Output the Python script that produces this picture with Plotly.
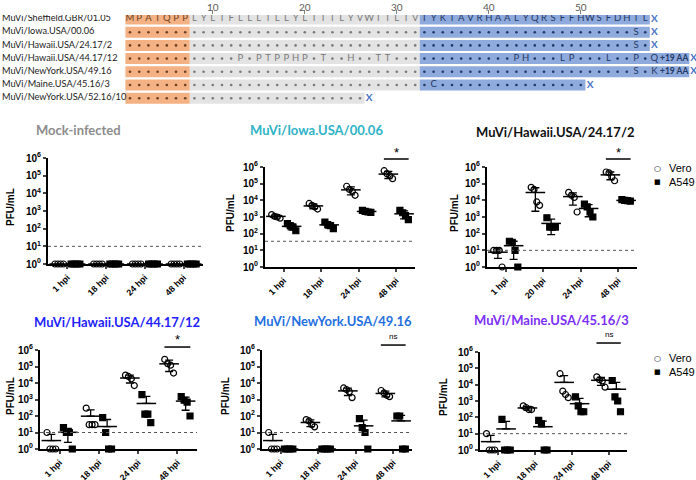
import numpy as np
import plotly.graph_objects as go

# ---------------- sequence alignment data ----------------
seq_names = ["MuVi/Sheffield.GBR/01.05", "MuVi/Iowa.USA/00.06", "MuVi/Hawaii.USA/24.17/2",
             "MuVi/Hawaii.USA/44.17/12", "MuVi/NewYork.USA/49.16", "MuVi/Maine.USA/45.16/3",
             "MuVi/NewYork.USA/52.16/10"]
seq_ref = "MPAIQPPLYLTFLLLILLYLIITLYVWIILTVTYKTAVRHAALYQRSFFHWSFDHTL"
seq_rows = [
    seq_ref,
    "." * 55 + "S.",
    "." * 55 + "S.",
    "." * 12 + "P.PTPPHP.T..H..TT" + "." * 13 + "PH...LP...L..P.Q",
    "." * 55 + "S.K",
    "." * 33 + "C" + "." * 16,
    "." * 26,
]
seq_extra = ["", "", "", "+19 AA", "+19 AA", "", ""]
seq_regions = [(1, 7), (8, 32), (33, 57)]          # signal / TM / cytoplasmic
seq_ticks = [10, 20, 30, 40, 50]

# ---------------- growth curve data (PFU/mL) ----------------
hpi = ["1 hpi", "18 hpi", "24 hpi", "48 hpi"]
hpi_h24 = ["1 hpi", "20 hpi", "24 hpi", "48 hpi"]

mock_vero = [[1, 1, 1, 1], [1, 1, 1, 1], [1, 1, 1, 1], [1, 1, 1, 1]]
mock_a549 = [[1, 1, 1, 1], [1, 1, 1, 1], [1, 1, 1, 1], [1, 1, 1, 1]]

iowa_vero = [[1400, 1100, 1000, 850], [6500, 5000, 4000, 3000], [70000, 45000, 35000, 20000],
             [600000, 400000, 300000, 200000]]
iowa_a549 = [[400, 300, 250, 150], [500, 350, 300, 200], [2500, 2200, 2000, 1900],
             [2500, 1800, 1200, 700]]

h24_vero = [[10, 10, 10, 1], [60000, 45000, 8000, 5000], [30000, 20000, 15000, 2000],
            [500000, 450000, 250000, 150000]]
h24_a549 = [[35, 30, 10, 1], [900, 250, 250, 250], [6000, 4000, 2000, 1000],
            [11000, 10000, 9500, 9000]]

h44_vero = [[10, 1, 1, 1], [300, 30, 30, 30], [30000, 25000, 18000, 7000],
            [270000, 150000, 120000, 40000]]
h44_a549 = [[20, 10, 10, 1], [80, 10, 1, 1], [2000, 130, 130, 40], [1500, 900, 700, 100]]

ny49_vero = [[10, 1, 1, 1], [60, 50, 30, 22], [5000, 4000, 3000, 1300], [3500, 2500, 1800, 1500]]
ny49_a549 = [[1, 1, 1, 1], [1, 1, 1, 1], [70, 20, 10, 1], [100, 100, 1, 1]]

me45_vero = [[10, 1, 1, 1], [500, 400, 300, 300], [47000, 4000, 2500, 1600],
             [30000, 20000, 17000, 7000]]
me45_a549 = [[75, 1, 1, 1], [65, 40, 1, 1], [1800, 500, 220, 220], [18000, 1800, 1000, 220]]

detection_limit = [10, 35, 10, 10, 10, 10]

panel_titles = ["Mock-infected", "MuVi/Iowa.USA/00.06", "MuVi/Hawaii.USA/24.17/2",
                "MuVi/Hawaii.USA/44.17/12", "MuVi/NewYork.USA/49.16", "MuVi/Maine.USA/45.16/3"]
panel_colors = ["#8c8c8c", "#2eb3c7", "#111111", "#1f1fff", "#1f6fe0", "#7b2ff7"]
panel_cats = [hpi, hpi, hpi_h24, hpi, hpi, hpi]
panel_vero = [mock_vero, iowa_vero, h24_vero, h44_vero, ny49_vero, me45_vero]
panel_a549 = [mock_a549, iowa_a549, h24_a549, h44_a549, ny49_a549, me45_a549]
panel_sig = [None, "*", "*", "*", "ns", "ns"]

# ---------------- layout geometry (pixels) ----------------
W, H = 696, 480
# x0, x1, y_top(10^6), y_bottom(10^0)
boxes = [(48, 203, 158, 264), (265, 415, 167, 267), (487, 637, 167, 267),
         (40, 197, 350, 449), (262, 412, 350, 449), (480, 627, 352, 450)]
title_pos = [(78, 130), (316, 130), (555, 132), (117, 322), (333, 321), (551, 320)]
ylab_pos = [(10, 207), (230, 213), (454, 213), (10, 396), (225, 396), (443, 397)]
# significance bar / label height in decades
sig_pos = [None, (6.48, 6.85), (6.48, 6.85), (6.18, 6.65), (6.3, 6.8), (6.55, 7.05)]


def fx(p):
    return p / W


def fy(p):
    return 1 - p / H


fig = go.Figure()
layout = dict(width=W, height=H, margin=dict(l=0, r=0, t=0, b=0, autoexpand=False),
              paper_bgcolor="white", plot_bgcolor="rgba(0,0,0,0)",
              showlegend=False, barmode="overlay", annotations=[], shapes=[])

# ---------------- sequence alignment (axis 1) ----------------
step = 9.2
pos1 = 130
row_y0, row_dy = 19, 13.2
seq_top, seq_bot = 15, 106
layout["xaxis"] = dict(domain=[0, 1], range=[1 - pos1 / step, 1 + (W - pos1) / step],
                       side="top", tickvals=seq_ticks, ticks="outside", ticklen=4,
                       tickcolor="#7f7f7f", tickwidth=1, showline=False, showgrid=False,
                       zeroline=False, showticklabels=False,
                       anchor="y", fixedrange=True, automargin=False)
layout["yaxis"] = dict(domain=[fy(seq_bot), fy(seq_top)],
                       range=[(seq_bot - row_y0) / row_dy, (seq_top - row_y0) / row_dy],
                       visible=False, anchor="x", fixedrange=True, automargin=False)

# residue numbers above the ticks
for t in seq_ticks:
    layout["annotations"].append(dict(x=t, y=1, xref="x", yref="paper", text=str(t),
                                      showarrow=False, xanchor="center", yanchor="top",
                                      borderpad=0,
                                      font=dict(family="Lato", size=10, color="#595959")))

band_cols = ["#f4b183", "#e3e3e3", "#8faadc"]
txt_cols = ["#6b3f22", "#7a7a7a", "#1f3864"]
ext = 3.3
for r_i, (lo, hi) in enumerate(seq_regions):
    ys, bases, lens = [], [], []
    for i, row in enumerate(seq_rows):
        n = len(row)
        if n < lo:
            continue
        end = n if r_i == 2 else min(hi, n)
        extra = ext if (r_i == 2 and seq_extra[i]) else 0
        ys.append(i)
        bases.append(lo - 0.5)
        lens.append(end - lo + 1 + extra)
    fig.add_trace(go.Bar(x=lens, y=ys, base=bases, orientation="h", width=11 / row_dy,
                         marker=dict(color=band_cols[r_i], line=dict(width=0)),
                         xaxis="x", yaxis="y", hoverinfo="skip"))

for r_i, (lo, hi) in enumerate(seq_regions):
    lx, ly, lt, dx, dy = [], [], [], [], []
    for i, row in enumerate(seq_rows):
        for p, c in enumerate(row, start=1):
            reg = 0 if p <= 7 else (1 if p <= 32 else 2)
            if reg != r_i:
                continue
            if c == ".":
                dx.append(p); dy.append(i)
            else:
                lx.append(p); ly.append(i); lt.append(c)
    fig.add_trace(go.Scatter(x=lx, y=ly, text=lt, mode="text", xaxis="x", yaxis="y",
                             textfont=dict(family="Lato", size=9.5, color=txt_cols[r_i]),
                             hoverinfo="skip"))
    fig.add_trace(go.Scatter(x=dx, y=dy, mode="markers", xaxis="x", yaxis="y",
                             marker=dict(symbol="circle", size=2.6, color=txt_cols[r_i],
                                         line=dict(width=0)),
                             hoverinfo="skip"))

# row names, extra text and stop marks
fig.add_trace(go.Scatter(x=[1 - (pos1 - 2) / step] * len(seq_names), y=list(range(len(seq_names))),
                         text=seq_names, mode="text", textposition="middle right",
                         textfont=dict(family="Lato", size=9.2, color="#1a1a1a"),
                         xaxis="x", yaxis="y", hoverinfo="skip"))
ex_x, ex_y, ex_t, st_x, st_y = [], [], [], [], []
for i, row in enumerate(seq_rows):
    if seq_extra[i]:
        ex_x.append(len(row) + 0.5 + ext / 2); ex_y.append(i); ex_t.append(seq_extra[i])
        st_x.append(len(row) + 0.5 + ext + 0.45)
    else:
        st_x.append(len(row) + 1)
    st_y.append(i)
fig.add_trace(go.Scatter(x=ex_x, y=ex_y, text=[f"<b>{t}</b>" for t in ex_t], mode="text",
                         textfont=dict(family="Lato", size=8.5, color="#1f3864"),
                         xaxis="x", yaxis="y", hoverinfo="skip"))
fig.add_trace(go.Scatter(x=st_x, y=st_y, text=["<b>X</b>"] * len(st_x), mode="text",
                         textfont=dict(family="Lato", size=10, color="#4472c4"),
                         xaxis="x", yaxis="y", hoverinfo="skip"))

# ---------------- growth panels ----------------
grp_off = 0.21
spread = 0.075
ytv = [10 ** k for k in range(7)]
ytt = [f"<b>10<sup>{k}</sup></b>" for k in range(7)]


def ann(x, y, text, font, **kw):
    d = dict(x=fx(x), y=fy(y), xref="paper", yref="paper", text=text, showarrow=False,
             xanchor="center", yanchor="middle", font=font)
    d.update(kw)
    layout["annotations"].append(d)


for pi in range(6):
    n = pi + 2
    xa, ya = f"x{n}", f"y{n}"
    x0, x1, yt, yb = boxes[pi]
    layout[f"xaxis{n}"] = dict(domain=[fx(x0), fx(x1)], range=[-0.5, 3.5], anchor=ya,
                               tickvals=[0, 1, 2, 3],
                               ticktext=[f"<b>{c}</b>" for c in panel_cats[pi]],
                               tickangle=-45, ticks="outside", ticklen=3, tickwidth=1.5,
                               showline=True, linecolor="black", linewidth=2,
                               showgrid=False, zeroline=False, automargin=False,
                               tickfont=dict(family="Liberation Sans", size=8.8, color="black"))
    layout[f"yaxis{n}"] = dict(domain=[fy(yb), fy(yt)], type="log", range=[0, 6], anchor=xa,
                               tickvals=ytv, ticktext=ytt, ticks="outside", ticklen=3,
                               tickwidth=1.5, showline=True, linecolor="black", linewidth=2,
                               showgrid=False, zeroline=False, automargin=False,
                               tickfont=dict(family="Liberation Sans", size=10, color="black"))
    # detection limit
    lim = detection_limit[pi]
    layout["shapes"].append(dict(type="line", xref=f"{xa} domain", yref=ya, x0=0, x1=1,
                                 y0=lim, y1=lim, line=dict(color="#555555", width=1, dash="dot")))

    for g, (data, sym, off) in enumerate([(panel_vero[pi], "circle-open", -grp_off),
                                          (panel_a549[pi], "square", grp_off)]):
        px_, py_, mx, my, up, dn = [], [], [], [], [], []
        for k, vals in enumerate(data):
            m = len(vals)
            for j, v in enumerate(vals):
                px_.append(k + off + (j - (m - 1) / 2) * spread)
                py_.append(v)
            mean = float(np.mean(vals))
            sd = float(np.std(vals, ddof=1))
            mx.append(k + off)
            my.append(mean)
            up.append(sd)
            dn.append(sd if mean - sd > 0 else 0)
        fig.add_trace(go.Scatter(x=px_, y=py_, mode="markers", xaxis=xa, yaxis=ya,
                                 cliponaxis=False,
                                 marker=dict(symbol=sym, size=6, color="black",
                                             line=dict(color="black", width=1.2)),
                                 name="Vero" if g == 0 else "A549"))
        fig.add_trace(go.Scatter(x=mx, y=my, mode="markers", xaxis=xa, yaxis=ya,
                                 cliponaxis=False,
                                 marker=dict(symbol="line-ew", size=14,
                                             line=dict(color="black", width=1.5)),
                                 error_y=dict(type="data", array=up, arrayminus=dn,
                                              color="black", thickness=1.3, width=4)))

    # titles and axis labels
    tx, ty = title_pos[pi]
    ann(tx, ty, f"<b>{panel_titles[pi]}</b>", dict(family="Lato", size=13, color=panel_colors[pi]))
    lx_, ly_ = ylab_pos[pi]
    ann(lx_, ly_, "<b>PFU/mL</b>", dict(family="Liberation Sans", size=10, color="black"),
        textangle=-90)
    if panel_sig[pi]:
        yl, ytx = sig_pos[pi]
        c0, c1 = (3 - 0.33 + 0.5) / 4, (3 + 0.33 + 0.5) / 4
        layout["shapes"].append(dict(type="line", xref=f"{xa} domain", yref=f"{ya} domain",
                                     x0=c0, x1=c1, y0=yl / 6, y1=yl / 6,
                                     line=dict(color="black", width=1.5)))
        layout["annotations"].append(dict(x=3.5 / 4, y=ytx / 6, xref=f"{xa} domain",
                                          yref=f"{ya} domain", text=panel_sig[pi],
                                          showarrow=False, xanchor="center", yanchor="middle",
                                          font=dict(family="Liberation Sans",
                                                    size=13 if panel_sig[pi] == "*" else 8,
                                                    color="black")))

# legends (right of panels 3 and 6)
for ly0 in (168, 358):
    for j, (sym, lab) in enumerate([("○", "Vero"), ("■", "A549")]):
        ann(657, ly0 + 14 * j, sym, dict(family="DejaVu Sans", size=8 if j == 0 else 7,
                                         color="black"))
        ann(667, ly0 + 14 * j, lab, dict(family="Liberation Sans", size=11, color="black"),
            xanchor="left")

fig.update_layout(**layout)
fig.write_html("out.html", config={"displayModeBar": False},
               post_script="document.body.style.margin='0';")
